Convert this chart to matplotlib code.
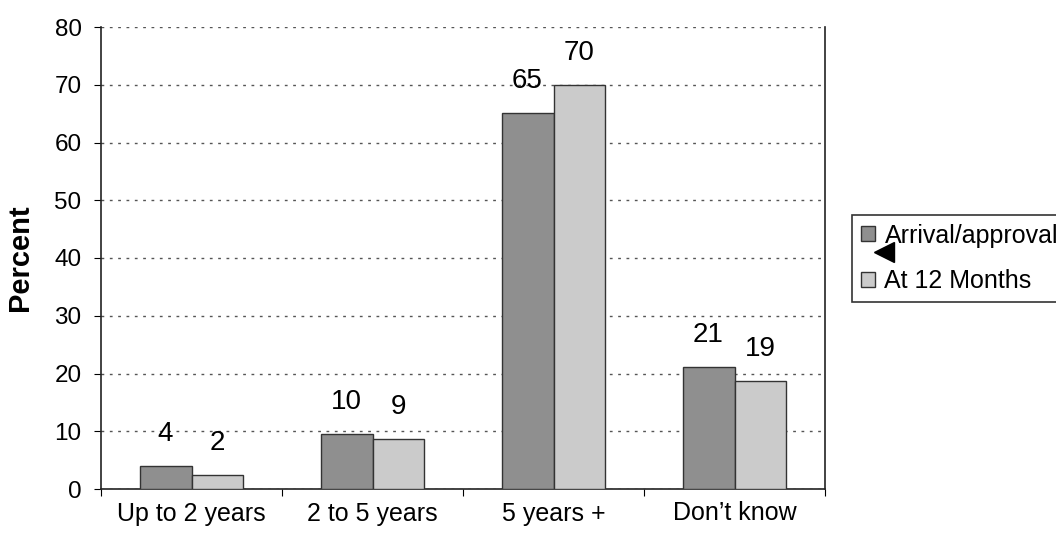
import matplotlib.pyplot as plt
import numpy as np
from matplotlib.lines import Line2D

# data
categories = ['Up to 2 years', '2 to 5 years', '5 years +', 'Don\u2019t know']
arrival = [4.0, 9.6, 65.1, 21.2]
months12 = [2.4, 8.7, 70.0, 18.7]
arrival_labels = ['4', '10', '65', '21']
months12_labels = ['2', '9', '70', '19']
series_names = ['Arrival/approval', 'At 12 Months']

plt.rcParams['font.family'] = ['Liberation Sans', 'DejaVu Sans']

fig = plt.figure(figsize=(10.56, 5.36), dpi=100)
ax = fig.add_axes([101 / 1056, 1 - 489 / 536, (825 - 101) / 1056, (489 - 27) / 536])

x = np.arange(len(categories))
w = 0.287
dark = '#8f8f8f'
light = '#cbcbcb'

ax.bar(x - w / 2, arrival, w, color=dark, edgecolor='#333333', linewidth=1, zorder=3)
ax.bar(x + w / 2, months12, w, color=light, edgecolor='#333333', linewidth=1, zorder=3)

for xi, v, s in zip(x - w / 2, arrival, arrival_labels):
    ax.annotate(s, (xi, v), xytext=(0, 23), textcoords='offset points',
                ha='center', va='center', fontsize=20)
for xi, v, s in zip(x + w / 2, months12, months12_labels):
    ax.annotate(s, (xi, v), xytext=(0, 23), textcoords='offset points',
                ha='center', va='center', fontsize=20)

ax.set_xlim(-0.5, len(categories) - 0.5)
ax.set_ylim(0, 80)
ax.set_yticks(range(0, 81, 10))
ax.yaxis.grid(True, linestyle=(0, (2, 4)), color='#555555', linewidth=1, zorder=0)
ax.tick_params(axis='y', direction='out', length=5, labelsize=17.5, pad=9)

# ticks at group boundaries, labels at group centres
ax.set_xticks(np.arange(-0.5, len(categories), 1.0))
ax.set_xticklabels([])
ax.set_xticks(x, minor=True)
ax.set_xticklabels(categories, minor=True, fontsize=18)
ax.tick_params(axis='x', which='major', direction='out', length=5)
ax.tick_params(axis='x', which='minor', length=0, pad=9)

ax.spines['top'].set_visible(False)
for s in ['left', 'right', 'bottom']:
    ax.spines[s].set_color('#222222')
    ax.spines[s].set_linewidth(1.2)

ax.set_ylabel('Percent', fontsize=21, fontweight='bold')
ax.yaxis.set_label_coords(-0.093, 0.5)

handles = [plt.Rectangle((0, 0), 1, 1, facecolor=dark, edgecolor='#333333'),
           plt.Rectangle((0, 0), 1, 1, facecolor=light, edgecolor='#333333')]
leg = fig.legend(handles, series_names, loc='upper left',
                 bbox_to_anchor=(852 / 1056, 1 - 215 / 536), fontsize=18,
                 frameon=True, fancybox=False, edgecolor='black',
                 handlelength=0.55, handleheight=0.55, handletextpad=0.4,
                 borderpad=0.35, borderaxespad=0, labelspacing=0.85)
leg.get_frame().set_linewidth(1.2)

# stray arrow marker sitting on the legend
fig.add_artist(Line2D([884 / 1056], [1 - 252 / 536], marker='<', markersize=15,
                      color='black', transform=fig.transFigure, zorder=10))

fig.savefig('out.png', dpi=100)
